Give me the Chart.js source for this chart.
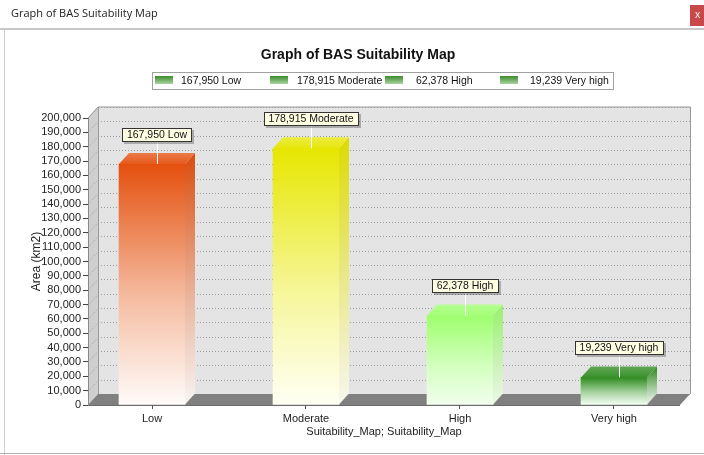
<!DOCTYPE html>
<html><head><meta charset="utf-8">
<script src="https://cdn.jsdelivr.net/npm/chart.js@4.4.1/dist/chart.umd.min.js"></script>
<style>
html,body{margin:0;padding:0;background:#fff;overflow:hidden;}
canvas{display:block;}
</style></head><body>
<canvas id="c" width="704" height="455"></canvas>
<script>
// ---- data ----
const categories = ['Low', 'Moderate', 'High', 'Very high'];
const areaValues = [167950, 178915, 62378, 19239];
const legendLabels = ['167,950 Low', '178,915 Moderate', '62,378 High', '19,239 Very high'];
const barLabels = ['167,950 Low', '178,915 Moderate', '62,378 High', '19,239 Very high'];
const yMin = 0, yMax = 200000, yStep = 10000;
const windowTitle = 'Graph of BAS Suitability Map';
const chartTitle = 'Graph of BAS Suitability Map';
const xAxisTitle = 'Suitability_Map; Suitability_Map';
const yAxisTitle = 'Area (km2)';

// ---- styles ----
const topColors = [[228, 80, 14], [230, 230, 0], [158, 255, 110], [46, 139, 30]];
const bottomColors = [[255, 252, 250], [255, 255, 245], [242, 255, 238], [245, 255, 245]];
const DX = 10, DY = -11;
const FONT = "'Liberation Sans', Arial, sans-serif";

function rgb(c, f) { f = f || 1; return 'rgb(' + c.map(v => Math.max(0, Math.min(255, Math.round(v * f)))).join(',') + ')'; }
function mix(a, b, t) { return a.map((v, i) => v + (b[i] - v) * t); }

function barGradient(ctx, i, top, bottom, dark) {
  const g = ctx.createLinearGradient(0, top, 0, bottom);
  const f = dark ? 0.95 : 1;
  g.addColorStop(0, rgb(topColors[i], f));
  g.addColorStop(0.55, rgb(mix(topColors[i], bottomColors[i], 0.62), f));
  g.addColorStop(1, rgb(bottomColors[i], dark ? 0.97 : 1));
  return g;
}

const chromePlugin = {
  id: 'chrome',
  beforeDraw(chart) {
    const { ctx, chartArea: a, scales: { y } } = chart;
    ctx.save();
    // window chrome
    ctx.fillStyle = '#fff';
    ctx.fillRect(0, 0, 704, 455);
    ctx.fillStyle = '#222';
    ctx.font = "11px 'Open Sans', sans-serif";
    ctx.textBaseline = 'middle';
    ctx.textAlign = 'left';
    ctx.fillText(windowTitle, 11, 14);
    ctx.fillStyle = '#C9494B';
    ctx.fillRect(690, 5, 14, 21);
    ctx.fillStyle = '#fff';
    ctx.font = "10px 'Open Sans', sans-serif";
    ctx.fillText('x', 695, 15);
    ctx.strokeStyle = '#C8C8C8';
    ctx.lineWidth = 2;
    ctx.beginPath(); ctx.moveTo(0, 29); ctx.lineTo(704, 29); ctx.stroke();
    ctx.lineWidth = 1;
    ctx.strokeStyle = '#D0D0D0';
    ctx.beginPath(); ctx.moveTo(4.5, 30); ctx.lineTo(4.5, 455); ctx.stroke();
    ctx.strokeStyle = '#B0B0B0';
    ctx.beginPath(); ctx.moveTo(0, 453.5); ctx.lineTo(704, 453.5); ctx.stroke();

    // chart title
    ctx.fillStyle = '#111';
    ctx.font = 'bold 14px ' + FONT;
    ctx.textAlign = 'center';
    ctx.fillText(chartTitle, 358, 55);

    // legend
    ctx.fillStyle = '#fff';
    ctx.fillRect(152, 72, 461, 18);
    ctx.strokeStyle = '#A0A0A0';
    ctx.strokeRect(152.5, 72.5, 461, 17);
    ctx.font = '10.5px ' + FONT;
    ctx.textAlign = 'left';
    const textOff = [26, 27, 31, 30];
    legendLabels.forEach((t, i) => {
      const sx = 155 + i * 115;
      const g = ctx.createLinearGradient(0, 76, 0, 85);
      g.addColorStop(0, '#3B8A2C');
      g.addColorStop(1, '#B8DDB0');
      ctx.fillStyle = g;
      ctx.fillRect(sx, 76, 18, 8);
      ctx.fillStyle = '#111';
      ctx.fillText(t, sx + textOff[i], 81);
    });

    // back wall
    const L = a.left, R = a.right, T = a.top, B = a.bottom;
    ctx.fillStyle = '#E4E4E4';
    ctx.fillRect(L + DX, T + DY, R - L, B - T);
    // left wall
    ctx.fillStyle = '#CFCFCF';
    ctx.beginPath();
    ctx.moveTo(L, T); ctx.lineTo(L + DX, T + DY); ctx.lineTo(L + DX, B + DY); ctx.lineTo(L, B); ctx.closePath();
    ctx.fill();
    // grid lines
    ctx.strokeStyle = '#9C9C9C';
    ctx.setLineDash([1, 2]);
    for (let v = yMin; v <= yMax; v += yStep) {
      const py = Math.round(y.getPixelForValue(v)) + 0.5;
      ctx.beginPath(); ctx.moveTo(L + DX, py + DY); ctx.lineTo(R + DX, py + DY); ctx.stroke();
      ctx.beginPath(); ctx.moveTo(L, py); ctx.lineTo(L + DX, py + DY); ctx.stroke();
    }
    ctx.setLineDash([]);
    // outlines of walls
    ctx.strokeStyle = '#9A9A9A';
    ctx.beginPath();
    ctx.moveTo(L, T); ctx.lineTo(L + DX, T + DY); ctx.lineTo(R + DX + 0.5, T + DY);
    ctx.lineTo(R + DX + 0.5, B + DY);
    ctx.moveTo(L + DX + 0.5, T + DY); ctx.lineTo(L + DX + 0.5, B + DY);
    ctx.stroke();
    // floor
    ctx.fillStyle = '#808080';
    ctx.beginPath();
    ctx.moveTo(L, B); ctx.lineTo(L + DX, B + DY); ctx.lineTo(R + DX, B + DY); ctx.lineTo(R, B); ctx.closePath();
    ctx.fill();
    ctx.strokeStyle = '#6A6A6A';
    ctx.beginPath(); ctx.moveTo(L, B + 0.5); ctx.lineTo(R, B + 0.5); ctx.stroke();
    ctx.restore();
  },
  afterDatasetsDraw(chart) {
    const { ctx } = chart;
    const meta = chart.getDatasetMeta(0);
    ctx.save();
    meta.data.forEach((bar, i) => {
      const { x, y, base, width } = bar.getProps(['x', 'y', 'base', 'width'], true);
      const l = x - width / 2, r = x + width / 2;
      // side face
      ctx.fillStyle = barGradient(ctx, i, y + DY, base, true);
      ctx.beginPath();
      ctx.moveTo(r, y); ctx.lineTo(r + DX, y + DY); ctx.lineTo(r + DX, base + DY); ctx.lineTo(r, base); ctx.closePath();
      ctx.fill();
      // top face
      const tg = ctx.createLinearGradient(0, y + DY, 0, y);
      tg.addColorStop(0, rgb(mix(topColors[i], [255, 255, 255], 0.25)));
      tg.addColorStop(1, rgb(mix(topColors[i], [255, 255, 255], 0.05)));
      ctx.fillStyle = tg;
      ctx.beginPath();
      ctx.moveTo(l, y); ctx.lineTo(l + DX, y + DY); ctx.lineTo(r + DX, y + DY); ctx.lineTo(r, y); ctx.closePath();
      ctx.fill();

      // label box
      const cx = Math.round(x + DX / 2);
      const boxBottom = Math.round(y + DY - 11);
      ctx.font = '10.5px ' + FONT;
      const tw = ctx.measureText(barLabels[i]).width;
      const bw = Math.round(tw + 10), bh = 14;
      const bx = Math.round(cx - bw / 2), by = boxBottom - bh;
      // connector
      ctx.strokeStyle = '#FFFFFF';
      ctx.lineWidth = 1;
      ctx.beginPath(); ctx.moveTo(cx + 0.5, boxBottom); ctx.lineTo(cx + 0.5, y); ctx.stroke();
      // shadow
      ctx.fillStyle = 'rgba(0,0,0,0.25)';
      ctx.fillRect(bx + 2, by + 2, bw, bh);
      ctx.fillStyle = '#FFFFE4';
      ctx.fillRect(bx, by, bw, bh);
      ctx.strokeStyle = '#333';
      ctx.strokeRect(bx + 0.5, by + 0.5, bw - 1, bh - 1);
      ctx.fillStyle = '#111';
      ctx.textAlign = 'center';
      ctx.textBaseline = 'middle';
      ctx.fillText(barLabels[i], cx, by + bh / 2 + 0.5);
    });
    ctx.restore();
  }
};

const ctx = document.getElementById('c').getContext('2d');
new Chart(ctx, {
  type: 'bar',
  data: {
    datasets: [{
      data: categories.map((c, i) => ({ x: i, y: areaValues[i] })),
      barThickness: 66,
      borderWidth: 0,
      backgroundColor: (c) => {
        const ch = c.chart;
        if (!ch.chartArea || c.dataIndex === undefined) return rgb(topColors[c.dataIndex || 0]);
        const ys = ch.scales.y;
        return barGradient(ch.ctx, c.dataIndex, ys.getPixelForValue(areaValues[c.dataIndex]), ys.getPixelForValue(0), false);
      }
    }]
  },
  options: {
    responsive: false,
    animation: false,
    devicePixelRatio: 1,
    layout: { padding: { left: 0, right: 24, top: 118, bottom: 0 } },
    plugins: { legend: { display: false }, tooltip: { enabled: false }, title: { display: false } },
    scales: {
      x: {
        type: 'linear',
        offset: false,
        min: -0.4156, max: 3.4286,
        afterBuildTicks: (s) => { s.ticks = categories.map((c, i) => ({ value: i })); },
        afterFit: (s) => { s.height = 50; },
        ticks: {
          callback: (v) => categories[v],
          font: { family: FONT, size: 11 }, color: '#222', padding: 3,
          autoSkip: false, maxRotation: 0
        },
        grid: { offset: false, drawOnChartArea: false, drawTicks: true, tickLength: 4, color: '#555' },
        border: { display: false },
        title: { display: true, text: xAxisTitle, font: { family: FONT, size: 11 }, color: '#222', padding: { top: 0, bottom: 16 } }
      },
      y: {
        min: yMin, max: yMax,
        afterFit: (s) => { s.width = 88; },
        ticks: {
          stepSize: yStep,
          autoSkip: false,
          callback: (v) => v.toLocaleString('en-US'),
          font: { family: FONT, size: 11 }, color: '#222', padding: 2
        },
        grid: { drawOnChartArea: false, drawTicks: true, tickLength: 5, color: '#444' },
        border: { display: true, color: '#8A8A8A' },
        title: { display: true, text: yAxisTitle, font: { family: FONT, size: 12 }, color: '#222', padding: { top: 29, bottom: 0 } }
      }
    }
  },
  plugins: [chromePlugin]
});
</script>
</body></html>
